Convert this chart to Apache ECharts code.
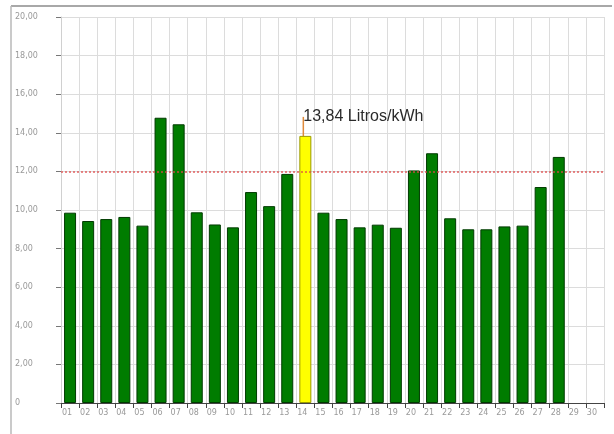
<!DOCTYPE html>
<html>
<head>
<meta charset="utf-8">
<script src="https://cdn.jsdelivr.net/npm/echarts@6/dist/echarts.min.js"></script>
<style>
  html, body { margin: 0; padding: 0; background: #ffffff; }
  #chart { width: 614px; height: 434px; }
</style>
</head>
<body>
<div id="chart"></div>
<script>
// Days of the month
const days = ['01','02','03','04','05','06','07','08','09','10',
              '11','12','13','14','15','16','17','18','19','20',
              '21','22','23','24','25','26','27','28','29','30'];
// Daily consumption, litres per kWh (no data for 29 and 30)
const litrosKwh = [9.86, 9.43, 9.53, 9.64, 9.19, 14.78, 14.44, 9.88, 9.25, 9.10,
                   10.93, 10.20, 11.87, 13.84, 9.86, 9.53, 9.10, 9.24, 9.08, 12.05,
                   12.94, 9.57, 9.00, 9.00, 9.15, 9.19, 11.19, 12.75, null, null];
// Highlighted day and reference limit
const highlightDay = '14';
const limite = 12;
// Value axis ticks
const yMin = 0, yMax = 20, yStep = 2;

const fmt = v => v === 0 ? '0' : v.toFixed(2).replace('.', ',');

const barData = litrosKwh.map((v, i) => {
  if (days[i] !== highlightDay) return v;
  return {
    value: v,
    itemStyle: { color: '#ffff00', borderColor: '#9a9a00' },
    label: {
      show: true,
      position: 'top',
      formatter: p => fmt(p.value) + ' Litros/kWh',
      fontFamily: 'Liberation Sans, Arial, sans-serif',
      fontSize: 16,
      color: '#2a2a2a'
    },
    labelLine: { show: true, lineStyle: { color: '#e08a3a', width: 1.5 } }
  };
});

const chart = echarts.init(document.getElementById('chart'), null, { renderer: 'canvas' });
chart.setOption({
  animation: false,
  backgroundColor: '#ffffff',
  grid: { left: 61, right: 10, top: 17, bottom: 31 },
  graphic: [
    { type: 'line', shape: { x1: 11, y1: 6, x2: 612, y2: 6 }, style: { stroke: '#a8a8a8', lineWidth: 2 } },
    { type: 'line', shape: { x1: 11, y1: 6, x2: 11, y2: 434 }, style: { stroke: '#b8b8b8', lineWidth: 1.5 } }
  ],
  xAxis: {
    type: 'category',
    data: days,
    boundaryGap: true,
    axisLine: { show: true, lineStyle: { color: '#444444', width: 1 } },
    axisTick: { show: true, length: 5, lineStyle: { color: '#444444' } },
    axisLabel: {
      color: '#999999', fontSize: 8, margin: 6, padding: [0, 6, 0, 0],
      fontFamily: 'DejaVu Sans, sans-serif'
    },
    splitLine: { show: true, lineStyle: { color: '#dcdcdc', width: 1 } }
  },
  yAxis: {
    type: 'value',
    min: yMin, max: yMax, interval: yStep,
    axisLine: { show: true, lineStyle: { color: '#d0d0d0' } },
    axisTick: { show: true, length: 5, lineStyle: { color: '#777777' } },
    axisLabel: {
      formatter: fmt, align: 'left', margin: 46,
      color: '#999999', fontSize: 8, fontFamily: 'DejaVu Sans, sans-serif'
    },
    splitLine: { show: true, lineStyle: { color: '#dcdcdc', width: 1 } }
  },
  series: [{
    type: 'bar',
    data: barData,
    barWidth: 12,
    itemStyle: { color: '#007c00', borderColor: '#003a00', borderWidth: 1 },
    labelLayout: { dx: 58, dy: -6 },
    markLine: {
      silent: true,
      symbol: ['none', 'none'],
      label: { show: false },
      lineStyle: { color: '#e04848', type: [2, 2], width: 1.5, opacity: 0.85 },
      data: [{ yAxis: limite }]
    }
  }]
});
</script>
</body>
</html>
